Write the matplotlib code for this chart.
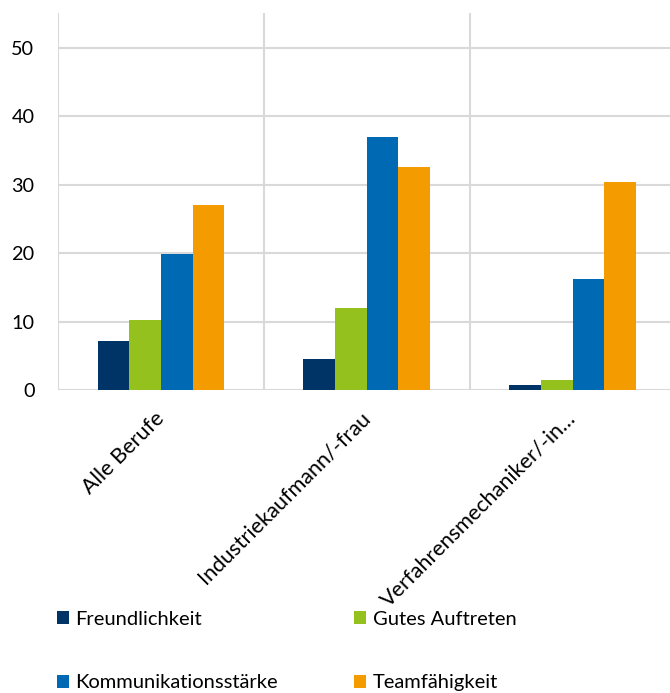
import matplotlib
matplotlib.use('Agg')
import matplotlib.pyplot as plt
import matplotlib.transforms as mtransforms
from matplotlib.patches import Patch
import numpy as np

plt.rcParams['font.family'] = ['Lato', 'DejaVu Sans']
plt.rcParams['font.size'] = 14.3

categories = ['Alle Berufe', 'Industriekaufmann/-frau', 'Verfahrensmechaniker/-in…']
series = ['Freundlichkeit', 'Gutes Auftreten', 'Kommunikationsstärke', 'Teamfähigkeit']
freundlichkeit = [7.2, 4.5, 0.8]
gutes_auftreten = [10.2, 12.0, 1.5]
kommunikation = [19.9, 36.9, 16.2]
teamfaehigkeit = [27.0, 32.5, 30.3]
values = [freundlichkeit, gutes_auftreten, kommunikation, teamfaehigkeit]
colors = ['#003366', '#95C11F', '#0069B4', '#F49B00']

fig = plt.figure(figsize=(6.7, 6.93), dpi=100)
ax = fig.add_axes([58 / 670, 1 - 390 / 693, 617.5 / 670, 376.7 / 693])

x = np.arange(len(categories))
w = 0.154
for i, (vals, c) in enumerate(zip(values, colors)):
    ax.bar(x + (i - 1.5) * w, vals, width=w, color=c, linewidth=0, zorder=3)

ax.set_xlim(-0.5, 2.5)
ax.set_ylim(0, 55)
ax.set_yticks(range(0, 51, 10))
ax.set_xticks(x)
ax.set_xticklabels(categories, rotation=45, ha='right', fontsize=15.6)
ax.set_xticks([-0.5, 0.5, 1.5, 2.5], minor=True)
ax.tick_params(axis='both', which='both', length=0)
ax.tick_params(axis='y', pad=17)
ax.tick_params(axis='x', pad=13)
shift = mtransforms.ScaledTranslation(7 / 100, 0, fig.dpi_scale_trans)
for lbl in ax.get_xticklabels():
    lbl.set_transform(lbl.get_transform() + shift)
ax.grid(axis='y', which='major', color='#D9D9D9', linewidth=1.5, zorder=0)
ax.grid(axis='x', which='minor', color='#D9D9D9', linewidth=1.5, zorder=0)
for s in ax.spines.values():
    s.set_visible(False)

handles = [Patch(facecolor=c, edgecolor='none') for c in colors]
leg_kw = dict(frameon=False, handlelength=0.62, handleheight=0.62,
              handletextpad=0.3, labelspacing=2.3, borderaxespad=0,
              borderpad=0, loc='upper left', fontsize=14.5)
leg1 = fig.legend([handles[0], handles[2]], [series[0], series[2]],
                  bbox_to_anchor=(57 / 670, 1 - 611 / 693), **leg_kw)
leg2 = fig.legend([handles[1], handles[3]], [series[1], series[3]],
                  bbox_to_anchor=(354 / 670, 1 - 611 / 693), **leg_kw)

fig.savefig('out.png', dpi=100)
